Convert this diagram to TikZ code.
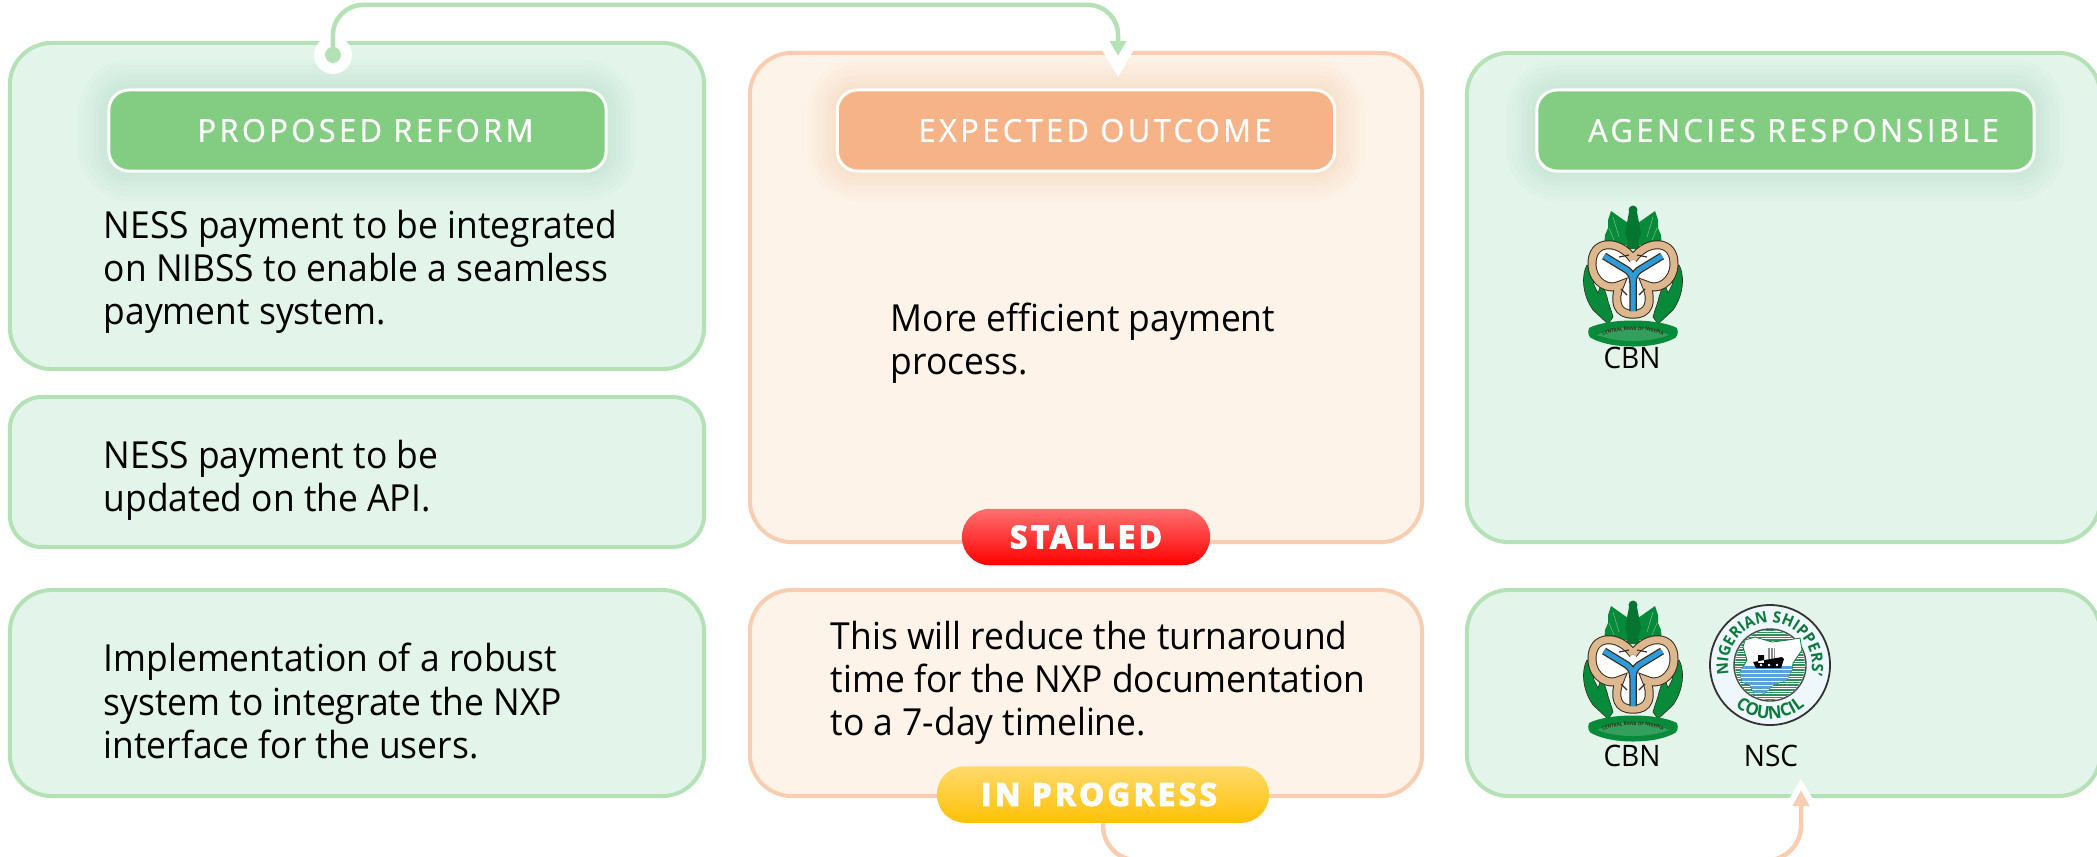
\documentclass[tikz,border=0pt]{standalone}
\usepackage{fontspec}
\setmainfont[FakeStretch=0.95]{Open Sans}
\newfontfamily\tagfont[LetterSpace=11,FakeStretch=0.97,FakeBold=0.9]{Open Sans}
\newfontfamily\pillfont[LetterSpace=12,BoldFeatures={FakeBold=5}]{Open Sans}
\usetikzlibrary{arrows.meta,decorations.text}
\definecolor{greenfill}{HTML}{E3F4EA}
\definecolor{greenedge}{HTML}{B5E1B6}
\definecolor{greentag}{HTML}{82CD82}
\definecolor{greenglow}{HTML}{A8DDC3}
\definecolor{orangefill}{HTML}{FDF3E8}
\definecolor{orangeedge}{HTML}{F9CDB1}
\definecolor{orangetag}{HTML}{F5B387}
\definecolor{orangeglow}{HTML}{F7CDA8}
\definecolor{redtop}{HTML}{FF7070}
\definecolor{redlow}{HTML}{FF0000}
\definecolor{goldtop}{HTML}{FFDA6A}
\definecolor{goldlow}{HTML}{FFC107}
\definecolor{logogreen}{HTML}{078A3A}
\definecolor{logotan}{HTML}{DDB78E}
\definecolor{logoblue}{HTML}{2C9BD8}
\definecolor{logodark}{HTML}{3A2A1C}
\definecolor{sealgreen}{HTML}{0B7A3B}
\definecolor{sealblue}{HTML}{5A9FD8}
\tikzset{
  panel/.style={draw=#1edge,fill=#1fill,line width=0.04cm,rounded corners=0.42cm,inner sep=0},
  tagbox/.style={draw=white,fill=#1tag,line width=0.03cm,rounded corners=0.2cm,minimum width=4.97cm,minimum height=0.81cm,text=white,
    font=\tagfont\fontsize{9}{10}\selectfont,
    preaction={draw=#1glow,line width=0.6cm,draw opacity=.05},
    preaction={draw=#1glow,line width=0.5cm,draw opacity=.06},
    preaction={draw=#1glow,line width=0.4cm,draw opacity=.07},
    preaction={draw=#1glow,line width=0.3cm,draw opacity=.08},
    preaction={draw=#1glow,line width=0.2cm,draw opacity=.09},
    preaction={draw=#1glow,line width=0.1cm,draw opacity=.1}},
  bodytext/.style={anchor=west,align=left,inner sep=0,text=black,font=\fontsize{10.6}{12.3}\selectfont},
  logolabel/.style={inner sep=0,text=black,font=\fontsize{8.4}{10}\selectfont},
  pillbox/.style={rounded corners=0.28cm,inner sep=0,minimum height=0.565cm,text=white,font=\pillfont\bfseries\fontsize{8.8}{10}\selectfont},
  greenlink/.style={draw=greenedge,line width=0.045cm,rounded corners=0.3cm,-{Triangle[width=0.16cm,length=0.15cm]}},
  orangelink/.style={draw=orangeedge,line width=0.045cm,rounded corners=0.35cm,-{Triangle[width=0.16cm,length=0.16cm]}},
  cbnlogo/.pic={
    \foreach \sd in {1,-1} {
      \begin{scope}[xscale=\sd]
        \fill[logogreen,draw=logodark,line width=0.006cm] (-46,-10) .. controls (-51,-2) and (-52,18) .. (-40,35) -- (-25,49) -- (-20,42) .. controls (-22,34) and (-25,28) .. (-26,22) -- (-31,7) -- (-35,18) -- (-39,10) -- (-42,-6) -- cycle;
        \fill[logogreen] (-3,-30) -- (-5,-52) -- (-22,-64) -- (-25,-55) -- (-25,-47) -- (-28,-40) -- (-29,-27) -- (-18,-33) -- (-10,-30) -- cycle;
        \draw[logogreen!55!white,line width=0.005cm] (-20,-58) -- (-14,-38) (-24,-47) -- (-19,-35);
      \end{scope}
    }
    \fill[logogreen!85!black] (-4,-63) -- (4,-63) -- (8,-42) -- (5,-33) -- (8,-26) -- (-8,-26) -- (-5,-33) -- (-8,-42) -- cycle (0,-65) circle (4.5);
    \fill[white] (-26,-10) circle (18) (26,-10) circle (18) (0,28) circle (14) (-30,-20) -- (30,-20) -- (12,30) -- (-12,30) -- cycle;
    \foreach \lw/\col in {0.09cm/logodark,0.07cm/logotan} {
      \draw[\col,line width=\lw] (0,-16) .. controls (-14,-36) and (-42,-36) .. (-41,-10) .. controls (-40,8) and (-24,16) .. (-13,10) .. controls (-20,26) and (-16,40) .. (0,39) .. controls (16,40) and (20,26) .. (13,10) .. controls (24,16) and (40,8) .. (41,-10) .. controls (42,-36) and (14,-36) .. (0,-16);
    }
    \draw[logodark,line width=0.012cm] (-4,-20) -- (-14,-18) (4,-20) -- (14,-18) (-12,14) -- (-6,20) (12,14) -- (6,20);
    \foreach \lw/\col in {0.075cm/logodark,0.05cm/logoblue} {
      \draw[\col,line width=\lw] (-29,-19) -- (-6,-5) .. controls (-2,-2) and (0,2) .. (0,8) -- (0,36) (29,-19) -- (6,-5) .. controls (2,-2) and (0,2) .. (0,8);
    }
    \fill[logogreen] (-44,53) .. controls (-25,43) and (25,43) .. (44,53) .. controls (46,58) and (44,63) .. (40,64) .. controls (20,74) and (-20,74) .. (-40,64) .. controls (-44,63) and (-46,58) .. (-44,53) -- cycle;
    \fill[logogreen!80!greenfill] (-36,60) .. controls (-15,50) and (15,50) .. (36,60) .. controls (15,68) and (-15,68) .. (-36,60) -- cycle;
    \path[decorate,decoration={text along path,text align=center,text={|\bfseries\fontsize{1.35}{2}\selectfont\color{logodark}|CENTRAL BANK OF NIGERIA}}] (-35,62) .. controls (-15,53) and (15,53) .. (35,62);
  },
  nsclogo/.pic={
    \draw[black!80,fill=white!92!logoblue,line width=0.018cm] (0,0) circle (60);
    \draw[black!70,fill=white,line width=0.014cm] (0,0) circle (36);
    \begin{scope}
      \clip (0,0) circle (35);
      \foreach \sy in {-35,-32.5,...,35} {
        \draw[sealgreen!85,line width=0.014cm] (-36,\sy) -- (36,\sy);
      }
    \end{scope}
    \def\nscmap{(-25,-25) -- (-15,-28) -- (2,-23) -- (18,-25) -- (30,-27) -- (32,-15) -- (23,-2) -- (22,5) -- (17,15) -- (3,20) -- (-5,28) -- (-15,30) -- (-20,20) -- (-28,17) -- (-30,7) -- (-23,-5) -- (-27,-18) -- cycle}
    \draw[sealgreen,fill=white,line width=0.008cm,line join=round] \nscmap;
    \begin{scope}
      \clip \nscmap;
      \fill[sealblue] (-36,1) rectangle (36,36);
      \foreach \sy in {4,8,...,32} {
        \draw[white,line width=0.006cm] (-36,\sy) -- (36,\sy);
      }
    \end{scope}
    \fill[black!45] (-2,-17) rectangle (5,-6);
    \draw[white,line width=0.006cm] (0,-17) -- (0,-6) (3,-17) -- (3,-6);
    \fill[black] (-17,-3) -- (12,-8) -- (14,-6) -- (11,3) -- (-14,3) -- cycle (-12,-10) rectangle (-6,-2);
    \fill[white] (-9,0) circle (1.4) (-1,0) circle (1.4) (7,0) circle (1.4);
    \path[decorate,decoration={text along path,text align=center,text={|\bfseries\fontsize{4.5}{6}\selectfont\color{sealgreen}|NIGERIAN SHIPPERS'}}] (150:42) arc[start angle=150,end angle=390,radius=42];
    \path[decorate,decoration={text along path,text align=center,text={|\bfseries\fontsize{5}{6}\selectfont\color{sealgreen}|COUNCIL}}] (150:54) arc[start angle=150,end angle=30,radius=54];
  }
}
\begin{document}
\begin{tikzpicture}[x=0.01cm,y=-0.01cm]
    \useasboundingbox (0,0) rectangle (2097,856);

    \node[panel=green,minimum width=6.94cm,minimum height=3.26cm] (reformbox) at (357,206) {};
    \node[panel=green,rounded corners=0.32cm,minimum width=6.94cm,minimum height=1.5cm] (apibox) at (357,472) {};
    \node[panel=green,minimum width=6.94cm,minimum height=2.06cm] (nxpbox) at (357,693) {};
    \node[panel=orange,minimum width=6.72cm,minimum height=4.89cm] (outcomebox) at (1086,297.5) {};
    \node[panel=orange,minimum width=6.72cm,minimum height=2.06cm] (nxpoutbox) at (1086,693) {};
    \node[panel=green,minimum width=6.33cm,minimum height=4.89cm] (agencybox) at (1783.5,297.5) {};
    \node[panel=green,minimum width=6.33cm,minimum height=2.06cm] (nxpagencybox) at (1783.5,693) {};

    \node[tagbox=green] (reformtag) at (357.5,130.5) {\hspace*{0.16cm}PROPOSED REFORM};
    \node[tagbox=orange] (outcometag) at (1086,130.5) {\hspace*{0.18cm}EXPECTED OUTCOME};
    \node[tagbox=green] (agencytag) at (1785.5,130.5) {\hspace*{0.16cm}AGENCIES RESPONSIBLE};

    \node[bodytext] (reformtext) at (103,272) {NESS payment to be integrated\\on NIBSS to enable a seamless\\payment system.};
    \node[bodytext] (apitext) at (103,480) {NESS payment to be\\updated on the API.};
    \node[bodytext] (nxptext) at (103,701) {Implementation of a robust\\system to integrate the NXP\\interface for the users.};
    \node[bodytext] (outcometext) at (890,343) {More efficient payment\\process.};
    \node[bodytext] (nxpouttext) at (830,683) {This will reduce the turnaround\\time for the NXP documentation\\to a 7-day timeline.};

    \pic at (1633,275) {cbnlogo};
    \node[logolabel] (cbntop) at (1632,358) {CBN};
    \pic at (1633,670) {cbnlogo};
    \node[logolabel] (cbnlow) at (1632,756) {CBN};
    \pic at (1770,665) {nsclogo};
    \node[logolabel] (nsclow) at (1771,756) {NSC};

    \coordinate (reformout) at ([xshift=-0.24cm,yshift=-0.14cm]reformbox.north);
    \coordinate (outcomein) at ([xshift=0.32cm,yshift=-0.05cm]outcomebox.north);
    \coordinate (nscin) at ([xshift=0.175cm,yshift=0.08cm]nxpagencybox.south);

    \fill[white] (reformout) circle (19);
    \fill[white] ([yshift=-0.21cm]outcomein) -- ++(-17,-29) -- ++(34,0) -- cycle;
    \fill[white] ([yshift=0.11cm]nscin) -- ++(-15,25) -- ++(30,0) -- cycle;

    \node[pillbox,minimum width=2.48cm,top color=redtop,bottom color=redlow] (stalledpill) at (1086,537) {STALLED};
    \node[pillbox,minimum width=3.32cm,top color=goldtop,bottom color=goldlow] (progresspill) at (1103,794.5) {IN PROGRESS\hspace*{0.08cm}};

    \fill[greenedge] (reformout) circle (8);
    \draw[greenlink] (reformout) -- ++(0,-50) -| (outcomein);
    \draw[orangelink] (progresspill.south) -- ++(0,37) -| (nscin);

\end{tikzpicture}
\end{document}
